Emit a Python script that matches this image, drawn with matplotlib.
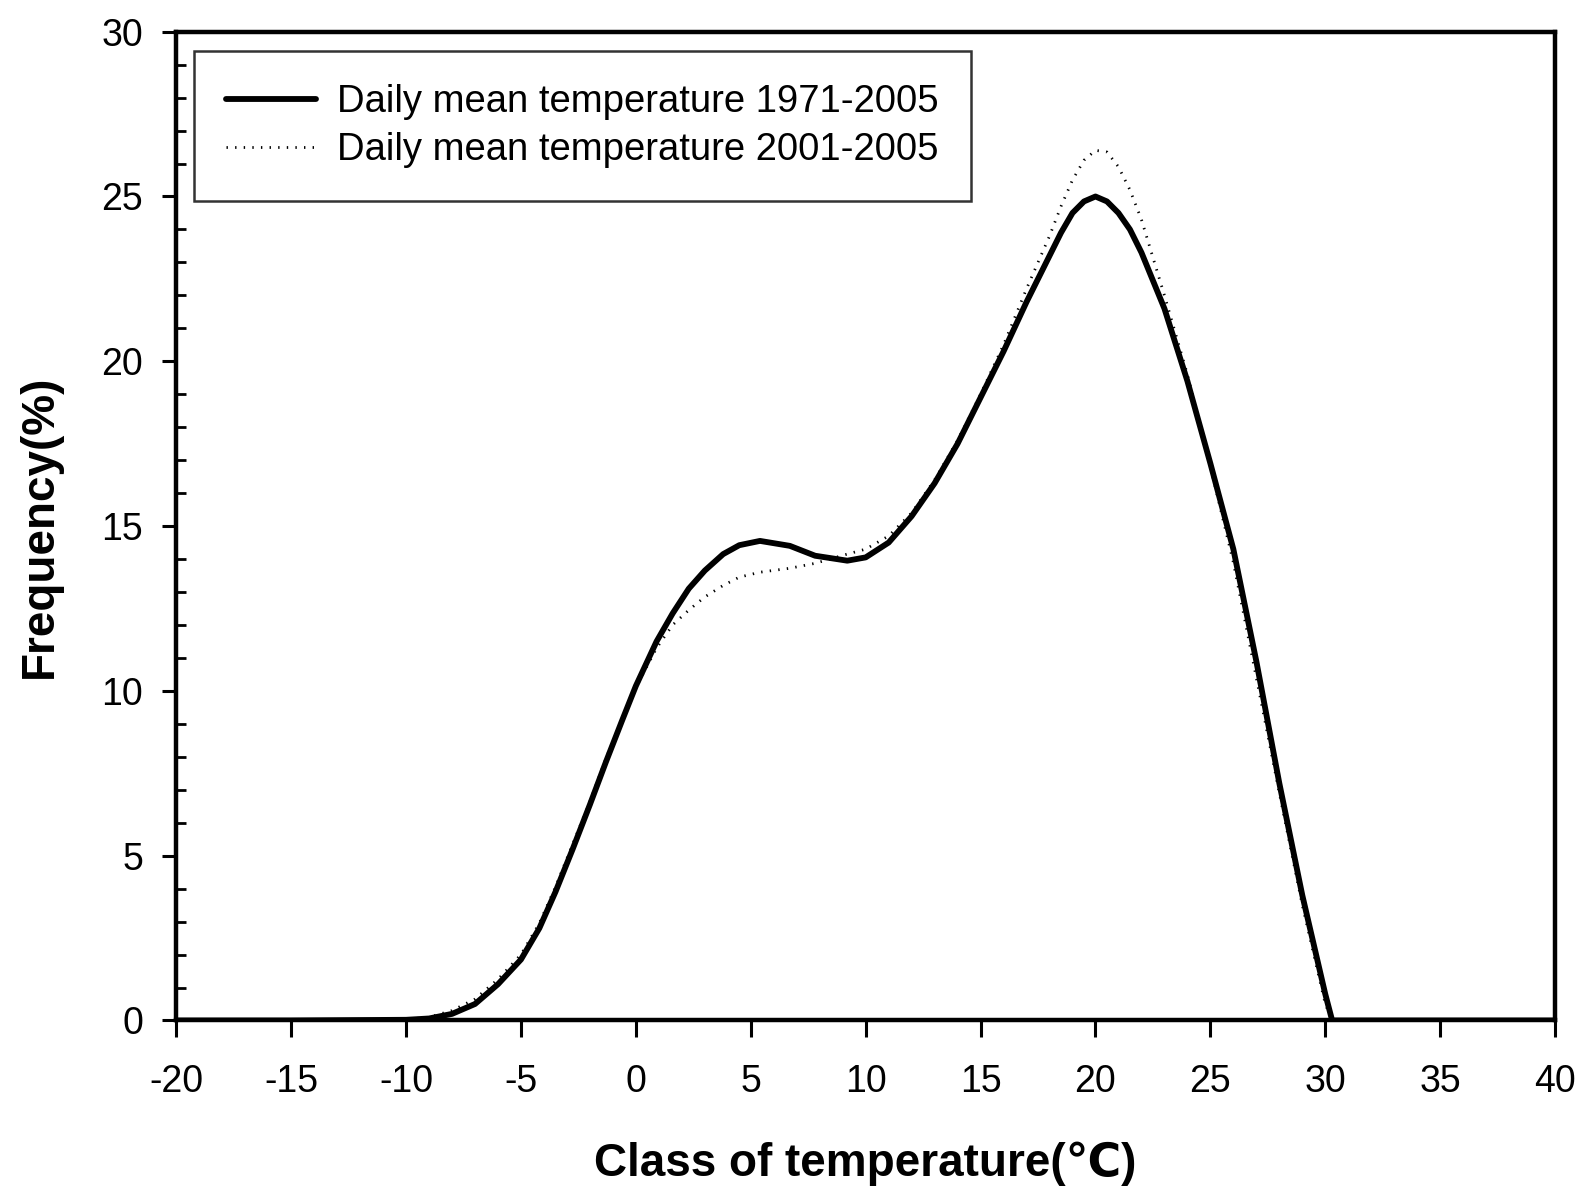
import matplotlib
matplotlib.use("Agg")
import matplotlib.pyplot as plt
from matplotlib.ticker import MultipleLocator

plt.rcParams['font.family'] = ['Liberation Sans', 'DejaVu Sans']
plt.rcParams['axes.unicode_minus'] = False

temp = [-20, -15, -10, -9, -8, -7, -6, -5, -4.2, -3.5, -2.75, -2, -1.3, -0.6, 0, 0.9, 1.6,
        2.3, 3, 3.8, 4.5, 5.4, 6.7, 7.8, 9.2, 10, 11, 12, 13, 14, 15, 16, 17, 18, 18.5,
        19, 19.5, 20, 20.5, 21, 21.5, 22, 23, 24, 25, 26, 27, 28, 29, 30, 30.3, 35, 40]
freq_1971_2005 = [0, 0, 0.02, 0.06, 0.2, 0.5, 1.1, 1.85, 2.8, 3.9, 5.2, 6.55, 7.85, 9.1, 10.15,
                  11.5, 12.35, 13.1, 13.65, 14.15, 14.42, 14.55, 14.4, 14.1, 13.95, 14.05,
                  14.5, 15.3, 16.3, 17.5, 18.9, 20.3, 21.8, 23.2, 23.9, 24.5, 24.85, 25.0,
                  24.85, 24.5, 24.0, 23.3, 21.6, 19.4, 16.9, 14.3, 10.9, 7.2, 3.8, 0.8, 0.0,
                  0, 0]
freq_2001_2005 = [0, 0, 0.03, 0.1, 0.3, 0.65, 1.25, 2.0, 2.95, 4.05, 5.35, 6.65, 7.95, 9.15,
                  10.1, 11.3, 12.0, 12.45, 12.85, 13.2, 13.45, 13.6, 13.72, 13.87, 14.15,
                  14.3, 14.7, 15.4, 16.4, 17.6, 19.0, 20.5, 22.2, 23.8, 24.7, 25.5, 26.1,
                  26.4, 26.35, 25.9, 25.2, 24.3, 22.0, 19.6, 16.8, 13.9, 10.4, 6.9, 3.5,
                  0.5, 0.0, 0, 0]

fig = plt.figure(figsize=(15.81, 11.87), dpi=100)
ax = fig.add_axes([0.1115, 0.1403, 0.9836 - 0.1115, 0.9733 - 0.1403])

ax.plot(temp, freq_1971_2005, color='black', lw=4.2, solid_capstyle='round',
        solid_joinstyle='round', label='Daily mean temperature 1971-2005', zorder=3)
ax.plot(temp, freq_2001_2005, color='black', lw=2.0, linestyle=(0, (0.5, 2.6)),
        label='Daily mean temperature 2001-2005', zorder=2)

ax.set_xlim(-20, 40)
ax.set_ylim(0, 30)
ax.xaxis.set_major_locator(MultipleLocator(5))
ax.yaxis.set_major_locator(MultipleLocator(5))
ax.yaxis.set_minor_locator(MultipleLocator(1))

for s in ax.spines.values():
    s.set_linewidth(3.2)

ax.tick_params(axis='both', which='major', direction='out', width=2.2, labelsize=27)
ax.tick_params(axis='x', which='major', length=12, pad=19)
ax.tick_params(axis='y', which='major', length=10, pad=14)
ax.tick_params(axis='y', which='minor', direction='in', length=7, width=2)
ax.tick_params(axis='x', which='minor', bottom=False)

ax.set_xlabel('Class of temperature(℃)', fontsize=33, fontweight='bold', labelpad=30)
ax.set_ylabel('Frequency(%)', fontsize=33, fontweight='bold', labelpad=28)

leg = ax.legend(loc='upper left', fontsize=27.5, frameon=True, fancybox=False,
                edgecolor='black', borderpad=0.85, handlelength=2.35, handletextpad=0.55,
                labelspacing=0.32, borderaxespad=0, bbox_to_anchor=(0.0125, 0.98))
leg.get_frame().set_linewidth(1.8)

fig.savefig('out.png', dpi=100, facecolor='white')
